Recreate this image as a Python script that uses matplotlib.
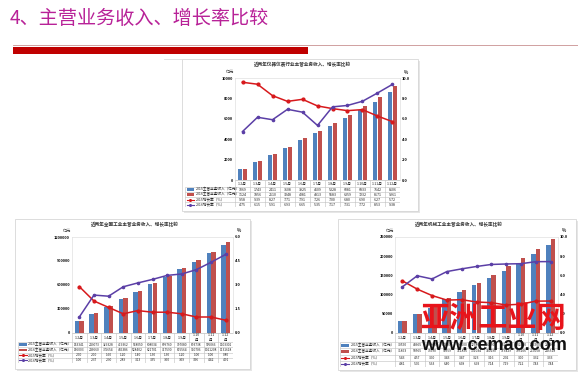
import numpy as np
import matplotlib.pyplot as plt
from matplotlib.patches import Rectangle
from matplotlib.ticker import FormatStrFormatter

plt.rcParams['font.family'] = ['Noto Sans CJK SC', 'DejaVu Sans']

# 月份（累计）
cats = ['1-2月', '1-3月', '1-4月', '1-5月', '1-6月', '1-7月',
        '1-8月', '1-9月', '1-10月', '1-11月', '1-12月']

# 仪器仪表行业
rev15_yq = [1069, 1743, 2411, 3108, 3925, 4609, 5328, 6081, 6833, 7642, 8606]
rev16_yq = [1124, 1856, 2510, 3248, 4081, 4813, 5583, 6359, 7232, 8171, 9261]
gr15_yq = [9.58, 9.39, 8.27, 7.71, 7.91, 7.26, 7.00, 6.80, 6.90, 6.27, 5.72]
gr16_yq = [4.75, 6.15, 5.91, 6.93, 6.65, 5.35, 7.17, 7.31, 7.72, 8.53, 9.38]

# 全国工业
rev15_qg = [153341, 243073, 329328, 419362, 518050, 608034,
            699760, 797080, 893738, 995066, 1103301]
rev16_qg = [156003, 246660, 335654, 436386, 528402, 621701,
            717590, 815564, 910706, 1011208, 1131618]
gr15_qg = [2.90, 2.00, 1.60, 1.20, 1.40, 1.30, 1.30, 1.20, 1.00, 1.00, 0.80]
gr16_qg = [1.00, 2.37, 2.30, 2.89, 3.13, 3.35, 3.60, 3.69, 3.96, 4.42, 4.91]

# 机械工业
rev15_jx = [30550, 48665, 65800, 87300, 106500, 123800,
            143500, 162600, 182400, 204500, 228400]
rev16_jx = [31863, 50565, 73690, 90959, 111896, 131034,
            150190, 173429, 195106, 219058, 245518]
gr15_jx = [5.43, 4.57, 3.90, 3.43, 3.47, 3.23, 3.16, 2.92, 3.00, 3.32, 3.33]
gr16_jx = [4.81, 5.96, 5.63, 6.40, 6.68, 6.93, 7.14, 7.19, 7.22, 7.43, 7.44]

row_names = ['2015主营业务收入（亿元）', '2016主营业务收入（亿元）',
             '2015增长率（%）', '2016增长率（%）']

BLUE = '#4F81BD'
RED = '#C0504D'
LRED = '#D7191C'
PURP = '#5B3FA6'
GRID = '#BFBFBF'

W, H = 578, 375
fig = plt.figure(figsize=(W / 100, H / 100), dpi=100)


def add_box(x0, y0, x1, y1):
    return fig.add_axes([x0 / W, 1 - y1 / H, (x1 - x0) / W, (y1 - y0) / H])


def ftext(x, y, s, **kw):
    return fig.text(x / W, 1 - y / H, s, **kw)


def frame(x0, y0, x1, y1):
    sh = Rectangle(((x0 + 2) / W, 1 - (y1 + 2) / H), (x1 - x0) / W, (y1 - y0) / H,
                   transform=fig.transFigure, facecolor='#E6E6E6', edgecolor='none', zorder=-2)
    fr = Rectangle((x0 / W, 1 - y1 / H), (x1 - x0) / W, (y1 - y0) / H,
                   transform=fig.transFigure, facecolor='white', edgecolor='#CFCFCF',
                   lw=0.5, zorder=-1)
    fig.patches.extend([sh, fr])


def panel(fr, pl, tl, tb, hc, title, rev15, rev16, gr15, gr16,
          lmax, lstep, rmax, rstep, wrap, numsize):
    frame(*fr)
    x0, y0, x1, y1 = pl
    n = len(cats)
    x = np.arange(n)

    ftext((fr[0] + fr[2]) / 2 + 2, fr[1] + 5.5, title, ha='center', va='center',
          fontsize=3.3, fontweight='bold', color='#333333')
    ftext(x0 - 5, y0 - 6, '亿元', ha='center', va='center', fontsize=3.0, color='#333333')
    ftext(x1 + 6, y0 - 6, '%', ha='center', va='center', fontsize=3.2,
          fontweight='bold', color='#333333')

    ax = add_box(x0, y0, x1, y1)
    ax.set_facecolor('none')
    ax.bar(x - 0.155, rev15, 0.3, color=BLUE, zorder=2)
    ax.bar(x + 0.155, rev16, 0.3, color=RED, zorder=2)
    ax.set_xlim(-0.5, n - 0.5)
    ax.set_ylim(0, lmax)
    ax.set_yticks(np.arange(0, lmax + 1, lstep))
    ax.yaxis.set_major_formatter(FormatStrFormatter('%d'))
    ax.set_xticks([])
    ax.tick_params(axis='y', labelsize=2.8, length=0, pad=1.5)
    for lab in ax.get_yticklabels():
        lab.set_fontweight('bold')
    for s in ax.spines.values():
        s.set_color('#D9D9D9')
        s.set_linewidth(0.4)

    ax2 = ax.twinx()
    ax2.plot(x, gr15, color=LRED, lw=1.1, marker='o', ms=2.0, zorder=3)
    ax2.plot(x, gr16, color=PURP, lw=1.1, marker='o', ms=1.6, zorder=3)
    ax2.set_ylim(0, rmax)
    ax2.set_yticks(np.arange(0, rmax + 0.01, rstep))
    ax2.yaxis.set_major_formatter(FormatStrFormatter('%.1f'))
    ax2.tick_params(axis='y', labelsize=2.8, length=0, pad=1.5)
    for lab in ax2.get_yticklabels():
        lab.set_fontweight('bold')
    for s in ax2.spines.values():
        s.set_visible(False)

    # 数据表
    axt = add_box(tl, y1, x1, tb)
    axt.axis('off')
    hdr = (x0 - tl) / ((x1 - x0) / n)
    left = -0.5 - hdr
    total = tb - y1
    axt.set_xlim(left, n - 0.5)
    axt.set_ylim(total, 0)
    rh = (total - hc) / 4
    ys = [hc + i * rh for i in range(5)]
    axt.hlines(ys, left, n - 0.5, color=GRID, lw=0.4)
    axt.hlines(0, -0.5, n - 0.5, color=GRID, lw=0.4)
    axt.vlines(np.arange(n + 1) - 0.5, 0, total, color=GRID, lw=0.4)
    axt.vlines(left, hc, total, color=GRID, lw=0.4)

    for i, c in enumerate(cats):
        lab = c[:-1] + '\n' + c[-1] if (wrap and len(c) > 4) else c
        axt.text(i, hc / 2, lab, ha='center', va='center', fontsize=2.6,
                 linespacing=1.1, color='#222222')

    rows = [rev15, rev16, gr15, gr16]
    keys = [BLUE, RED, LRED, PURP]
    for r, (vals, name, kc) in enumerate(zip(rows, row_names, keys)):
        yc = hc + (r + 0.5) * rh
        for i, v in enumerate(vals):
            txt = f'{v:.0f}' if r < 2 else f'{v:.2f}'
            axt.text(i, yc, txt, ha='center', va='center', fontsize=numsize, color='#222222')
        if r < 2:
            axt.add_patch(Rectangle((left + 0.1, yc - rh * 0.25), 0.5, rh * 0.5,
                                    facecolor=kc, edgecolor='none'))
        else:
            axt.plot([left + 0.1, left + 0.6], [yc, yc], color=kc, lw=0.8)
            axt.plot([left + 0.35], [yc], color=kc, marker='o', ms=1.2)
        axt.text(left + 0.7, yc, name, ha='left', va='center', fontsize=2.6, color='#222222')


# 标题
ftext(10, 19, '4、主营业务收入、增长率比较', ha='left', va='center',
      fontsize=13.8, color='#B82298')
fig.add_artist(plt.Line2D([13 / W, 1], [1 - 45 / H, 1 - 45 / H], color='#C99090', lw=0.6))
fig.add_artist(Rectangle((13 / W, 1 - 54 / H), 295 / W, 7 / H, facecolor='#C00000',
                         edgecolor='none', transform=fig.transFigure))
fig.add_artist(plt.Line2D([164 / W, 373 / W], [1 - 59 / H, 1 - 59 / H], color='#DDDDDD', lw=0.6))

panel((182, 59, 418, 211), (235, 78, 400, 180), 185, 207, 7,
      '近两年仪器仪表行业主营业务收入、增长率比较',
      rev15_yq, rev16_yq, gr15_yq, gr16_yq, 10000, 2000, 10, 2, False, 2.6)

panel((15, 219, 250, 369), (72, 237, 233, 333), 18, 363, 9,
      '近两年全国工业主营业务收入、增长率比较',
      rev15_qg, rev16_qg, gr15_qg, gr16_qg, 1200000, 300000, 6, 1.5, True, 2.3)

panel((338, 219, 576, 370), (395, 237, 558, 333), 340, 367, 9,
      '近两年机械工业主营业务收入、增长率比较',
      rev15_jx, rev16_jx, gr15_jx, gr16_jx, 250000, 50000, 10, 2, True, 2.4)

# 水印
ftext(493, 318, '亚洲工业网', ha='center', va='center', fontsize=21,
      fontweight='heavy', color='#E8141B', zorder=10)
ftext(494, 345, 'www.cemao.com', ha='center', va='center', fontsize=13,
      fontweight='bold', family=['Liberation Sans', 'DejaVu Sans'], color='#111111', zorder=10)

fig.savefig('out.png', dpi=100, facecolor='white')
